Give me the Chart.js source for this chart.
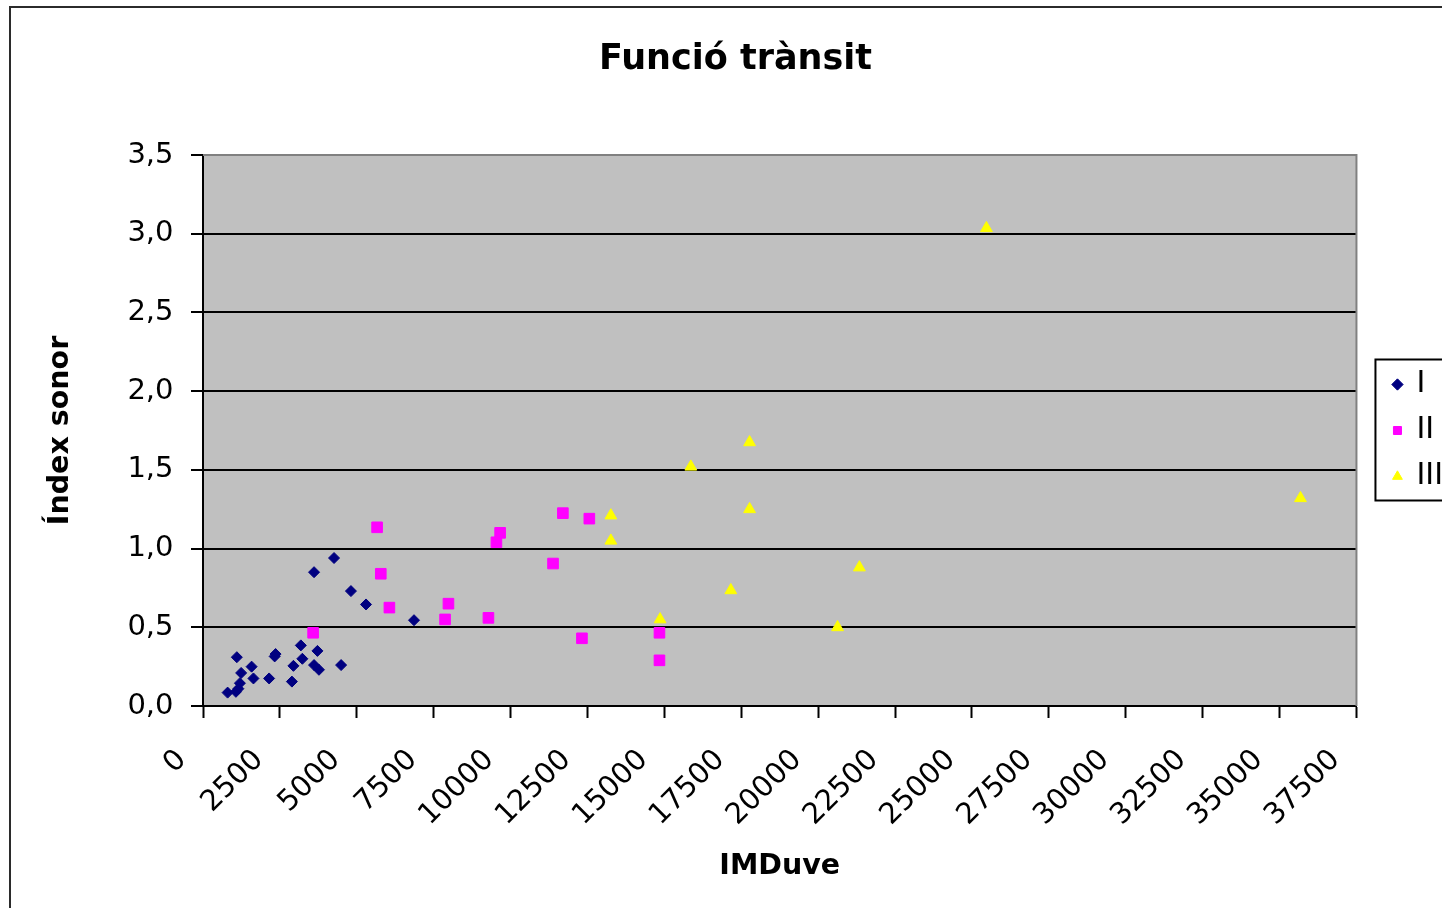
<!DOCTYPE html>
<html>
<head>
<meta charset="utf-8">
<script src="https://cdn.jsdelivr.net/npm/chart.js@4.4.1/dist/chart.umd.min.js"></script>
<style>
html,body{margin:0;padding:0;background:#fff;overflow:hidden;width:1442px;height:908px}
#frame{position:absolute;left:9px;top:6px;width:1500px;height:1000px;border:2px solid #2b2b2b;box-sizing:border-box}
#c{position:absolute;left:0;top:0}
</style>
</head>
<body>
<div id="frame"></div>
<canvas id="c" width="1453" height="908"></canvas>
<script>
const FONT = 'DejaVu Sans';

// series I (blue diamonds)
const serI_x = [4260, 3610, 4810, 5300, 6860, 3180, 3720, 2360, 2330, 1100, 3230, 2940, 3610, 3770, 4490, 1580, 1240, 1640, 2150, 2890, 1200, 1150, 1070, 800];
const serI_y = [0.94, 0.85, 0.73, 0.645, 0.545, 0.385, 0.35, 0.33, 0.315, 0.31, 0.30, 0.255, 0.26, 0.23, 0.26, 0.25, 0.21, 0.175, 0.175, 0.155, 0.145, 0.11, 0.09, 0.085];
// series II (magenta squares)
const serII_x = [5660, 5780, 6060, 3580, 7980, 7870, 9280, 9660, 9540, 11380, 11700, 12560, 12320, 14840, 14840];
const serII_y = [1.135, 0.84, 0.625, 0.465, 0.65, 0.55, 0.56, 1.10, 1.04, 0.905, 1.225, 1.19, 0.43, 0.465, 0.29];
// series III (yellow triangles)
const serIII_x = [13260, 13260, 14860, 15860, 17770, 17770, 17160, 20630, 21340, 25470, 35680];
const serIII_y = [1.21, 1.05, 0.55, 1.52, 1.675, 1.25, 0.735, 0.50, 0.88, 3.035, 1.32];

const seriesNames = ['I', 'II', 'III'];
const xMin = 0, xMax = 37500, xStep = 2500;
const yMin = 0, yMax = 3.5, yStep = 0.5;

const pts = (xs, ys) => xs.map((x, i) => ({x: x, y: ys[i]}));

const plotBg = {
  id: 'plotBg',
  beforeDraw(chart){
    const {ctx, chartArea: a} = chart;
    ctx.save();
    ctx.fillStyle = '#c0c0c0';
    ctx.fillRect(a.left, a.top, a.right - a.left, a.bottom - a.top);
    ctx.restore();
  },
  beforeDatasetsDraw(chart){
    const {ctx, chartArea: a} = chart;
    ctx.save();
    ctx.strokeStyle = '#808080'; ctx.lineWidth = 2;
    ctx.beginPath();
    ctx.moveTo(a.left, a.top); ctx.lineTo(a.right, a.top); ctx.lineTo(a.right, a.bottom);
    ctx.stroke();
    ctx.restore();
  }
};

// box round the legend, like the original
const legendFrame = {
  id: 'legendFrame',
  afterDraw(chart){
    const lg = chart.legend;
    const p = lg.options.labels.padding;
    const colH = lg.columnSizes[0].height;
    const y0 = (lg.top + p + lg.bottom - colH) / 2;
    const ctx = chart.ctx;
    ctx.save();
    ctx.strokeStyle = '#000'; ctx.lineWidth = 2;
    ctx.strokeRect(lg.left - 2, y0 - 10, 200, colH + 3);
    ctx.restore();
  }
};

new Chart(document.getElementById('c'), {
  type: 'scatter',
  data: {
    datasets: [
      { label: seriesNames[0], data: pts(serI_x, serI_y), pointStyle: 'rectRot', pointRadius: 5.5,
        backgroundColor: '#000080', borderColor: '#000080', borderWidth: 1 },
      { label: seriesNames[1], data: pts(serII_x, serII_y), pointStyle: 'rect', pointRadius: 7.5,
        backgroundColor: '#ff00ff', borderColor: '#ff00ff', borderWidth: 1 },
      { label: seriesNames[2], data: pts(serIII_x, serIII_y), pointStyle: 'triangle', pointRadius: 6.8,
        backgroundColor: '#ffff00', borderColor: '#ffff00', borderWidth: 1 }
    ]
  },
  options: {
    responsive: false, animation: false, devicePixelRatio: 1,
    layout: { padding: { left: 18, right: 0, top: 0, bottom: 0 } },
    plugins: {
      title: { display: true, text: 'Funció trànsit', color: '#000',
        font: { family: FONT, size: 35, weight: 'bold' }, padding: { top: 39, bottom: 74 } },
      legend: { position: 'right', fullSize: false,
        labels: { usePointStyle: true, boxWidth: 8, boxHeight: 8, padding: 16, color: '#000',
          font: { family: FONT, size: 30 } } },
      tooltip: { enabled: false }
    },
    scales: {
      x: {
        type: 'linear', position: 'bottom', min: xMin, max: xMax,
        afterFit(s){ s.height = 202; },
        ticks: { stepSize: xStep, autoSkip: false, minRotation: 45, maxRotation: 45,
          padding: 25, labelOffset: -21, color: '#000', font: { family: FONT, size: 29 },
          callback: v => String(v) },
        grid: { drawOnChartArea: false, drawTicks: true, tickLength: 12, color: '#000', tickWidth: 2 },
        border: { color: '#000', width: 2 },
        title: { display: true, text: 'IMDuve', color: '#000',
          font: { family: FONT, size: 28.5, weight: 'bold' }, padding: { top: 0, bottom: 24 } }
      },
      y: {
        type: 'linear', position: 'left', min: yMin, max: yMax,
        afterFit(s){ s.width = 185; },
        ticks: { stepSize: yStep, padding: 17.5, color: '#000', font: { family: FONT, size: 29 },
          callback: v => v.toFixed(1).replace('.', ',') },
        grid: { color: c => c.tick && c.tick.value === yMax ? '#808080' : '#000', lineWidth: 2,
          tickLength: 12, tickColor: '#000', tickWidth: 2 },
        border: { color: '#000', width: 2 },
        title: { display: true, text: 'Índex sonor', color: '#000',
          font: { family: FONT, size: 28.5, weight: 'bold' }, padding: { top: 25.6, bottom: 0 } }
      },
      gap: {
        type: 'linear', position: 'right', display: true,
        afterFit(s){ s.width = 21; },
        ticks: { display: false }, grid: { display: false }, border: { display: false }
      }
    }
  },
  plugins: [plotBg, legendFrame]
});
</script>
</body>
</html>
